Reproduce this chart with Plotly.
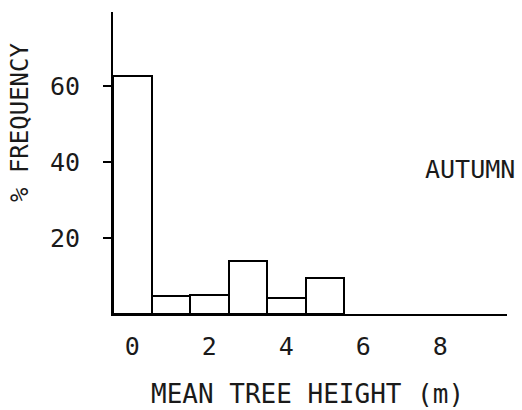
import plotly.graph_objects as go

# Data
heights = [0, 1, 2, 3, 4, 5]
freq = [62.6, 4.7, 4.9, 14.0, 4.2, 9.5]
x_ticks = [0, 2, 4, 6, 8]
y_ticks = [20, 40, 60]
season = "AUTUMN"
x_title = "MEAN TREE HEIGHT (m)"
y_title = "% FREQUENCY"

W, H = 522, 410
L, R, T, B = 113, 15, 12, 96
FONT = "DejaVu Sans Mono"
TXT = "#1a1a1a"

def px_x(p):
    return (p - L) / (W - L - R)

def px_y(p):
    return (H - B - p) / (H - T - B)

fig = go.Figure()
fig.add_trace(go.Bar(
    x=heights, y=freq, width=1,
    marker=dict(color="white", line=dict(color="black", width=2)),
    showlegend=False,
))

fig.update_layout(
    width=W, height=H,
    margin=dict(l=L, r=R, t=T, b=B, pad=0),
    paper_bgcolor="white", plot_bgcolor="white",
    font=dict(family=FONT, size=25, color=TXT),
    bargap=0,
    xaxis=dict(
        range=[-0.5, 9.73], tickvals=x_ticks, ticktext=[str(v) for v in x_ticks],
        ticks="", showgrid=False, zeroline=False,
        showline=True, linecolor="black", linewidth=2,
        ticklabelstandoff=9,
        tickfont=dict(family=FONT, size=25, color=TXT),
    ),
    yaxis=dict(
        range=[0, 79.5], tickvals=y_ticks, ticktext=[str(v) for v in y_ticks],
        ticks="outside", ticklen=8, tickwidth=2, tickcolor="black",
        showgrid=False, zeroline=False,
        showline=True, linecolor="black", linewidth=2,
        ticklabelstandoff=18,
        tickfont=dict(family=FONT, size=25, color=TXT),
    ),
    annotations=[
        dict(text=x_title, xref="paper", yref="paper", x=px_x(307), y=px_y(394),
             xanchor="center", yanchor="middle", showarrow=False,
             font=dict(family=FONT, size=26, color=TXT)),
        dict(text=y_title, xref="paper", yref="paper", x=px_x(20), y=px_y(123),
             xanchor="center", yanchor="middle", showarrow=False, textangle=-90,
             font=dict(family=FONT, size=24, color=TXT)),
        dict(text=season, xref="paper", yref="paper", x=px_x(470), y=px_y(169),
             xanchor="center", yanchor="middle", showarrow=False,
             font=dict(family=FONT, size=25, color=TXT)),
    ],
)

fig.write_html("out.html")
